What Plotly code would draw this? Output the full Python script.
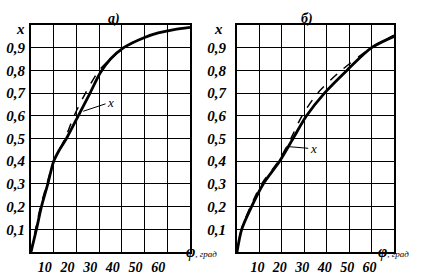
import plotly.graph_objects as go

# ---- data ----
phi_a_thick = [0, 2.4, 4.6, 7.4, 10, 12.5, 15.6, 20.8, 26, 30.5, 35, 40.8, 50, 56, 63, 70]
x_a_thick = [0, 0.1, 0.2, 0.3, 0.4, 0.45, 0.5, 0.6, 0.7, 0.79, 0.85, 0.9, 0.945, 0.965, 0.98, 0.99]
phi_a_thin = [0, 2, 4.2, 7, 10, 13, 15, 19, 24, 30, 35, 38.5, 45]
x_a_thin = [0, 0.1, 0.2, 0.3, 0.4, 0.46, 0.5, 0.6, 0.7, 0.8, 0.85, 0.88, 0.925]

phi_b_thick = [0, 2.1, 6.5, 11.7, 19, 25, 31, 39, 49, 60, 70]
x_b_thick = [0, 0.1, 0.2, 0.3, 0.4, 0.5, 0.6, 0.7, 0.8, 0.9, 0.95]
phi_b_thin = [0, 2, 6, 11, 18.5, 23, 25, 29, 36, 46.5, 60, 70]
x_b_thin = [0, 0.1, 0.2, 0.3, 0.4, 0.48, 0.52, 0.6, 0.7, 0.8, 0.9, 0.955]

x_ticks = [10, 20, 30, 40, 50, 60]
x_ticktext = ["10", "20", "30", "40", "50", "60"]
y_ticks = [0.1, 0.2, 0.3, 0.4, 0.5, 0.6, 0.7, 0.8, 0.9]
y_ticktext = ["0,1", "0,2", "0,3", "0,4", "0,5", "0,6", "0,7", "0,8", "0,9"]
panel_titles = ["а)", "б)"]

SERIF = "Liberation Serif"

fig = go.Figure()
for xs, ys, xa, ya, w, dash in [
    (phi_a_thick, x_a_thick, "x", "y", 2.8, "solid"),
    (phi_a_thin, x_a_thin, "x", "y", 1.5, "dash"),
    (phi_b_thick, x_b_thick, "x2", "y2", 2.8, "solid"),
    (phi_b_thin, x_b_thin, "x2", "y2", 1.5, "dash"),
]:
    fig.add_trace(go.Scatter(x=xs, y=ys, xaxis=xa, yaxis=ya, mode="lines",
                             line=dict(color="black", width=w, dash=dash,
                                       shape="spline", smoothing=0.8),
                             showlegend=False, hoverinfo="skip"))

W, H = 431, 276
dom_a = [31 / W, 190 / W]
dom_b = [237 / W, 394 / W]
dom_y = [(H - 252) / H, (H - 25) / H]

bi = lambda s: "<b><i>" + s + "</i></b>"

xcommon = dict(range=[0, 70], tickvals=x_ticks, ticktext=[bi(t) for t in x_ticktext],
               showgrid=True, gridcolor="black", gridwidth=1, showline=True,
               linecolor="black", linewidth=2, mirror=True, ticks="", zeroline=False,
               tickfont=dict(family=SERIF, size=14, color="black"))
ycommon = dict(range=[0, 1.0], tickvals=y_ticks, ticktext=[bi(t) for t in y_ticktext],
               showgrid=True, gridcolor="black", gridwidth=1, showline=True,
               linecolor="black", linewidth=2, mirror=True, ticks="", zeroline=False,
               tickfont=dict(family=SERIF, size=15, color="black"))

fig.update_layout(
    width=W, height=H,
    margin=dict(l=0, r=0, t=0, b=0),
    paper_bgcolor="white", plot_bgcolor="white",
    xaxis=dict(domain=dom_a, anchor="y", ticklabelshift=-9, ticklabelstandoff=1, **xcommon),
    yaxis=dict(domain=dom_y, anchor="x", ticklabelstandoff=1, **ycommon),
    xaxis2=dict(domain=dom_b, anchor="y2", ticklabelshift=-2, ticklabelstandoff=1, **xcommon),
    yaxis2=dict(domain=dom_y, anchor="x2", ticklabelstandoff=6, **ycommon),
)

ann = []
# panel titles
ann.append(dict(text=bi(panel_titles[0]), x=106 / W, y=(H - 9) / H,
                xref="paper", yref="paper", showarrow=False,
                font=dict(family=SERIF, size=14, color="black")))
ann.append(dict(text=bi(panel_titles[1]), x=315 / W, y=(H - 9) / H,
                xref="paper", yref="paper", showarrow=False,
                font=dict(family=SERIF, size=14, color="black")))
# y axis names
for px in (14, 219):
    ann.append(dict(text=bi("x"), x=px / W, y=(H - 19) / H, xref="paper",
                    yref="paper", showarrow=False,
                    font=dict(family=SERIF, size=15, color="black")))
# x axis names
for px in (201, 411):
    ann.append(dict(text="<b><i>φ</i></b><span style='font-size:9px'><i>, град</i></span>",
                    x=px / W, y=(H - 263) / H, xref="paper", yref="paper",
                    showarrow=False, font=dict(family=SERIF, size=16, color="black")))
# leader labels
ann.append(dict(text="<i>x</i>", x=23, y=0.62, xref="x", yref="y", ax=35, ay=0.66,
                axref="x", ayref="y", showarrow=True, arrowhead=0, arrowwidth=1,
                arrowcolor="black", font=dict(family=SERIF, size=13, color="black")))
ann.append(dict(text="<i>x</i>", x=22, y=0.465, xref="x2", yref="y2", ax=34, ay=0.455,
                axref="x2", ayref="y2", showarrow=True, arrowhead=0, arrowwidth=1,
                arrowcolor="black", font=dict(family=SERIF, size=13, color="black")))
fig.update_layout(annotations=ann)

fig.write_html("out.html", config={"displayModeBar": False},
               post_script="document.body.style.margin='0';")
